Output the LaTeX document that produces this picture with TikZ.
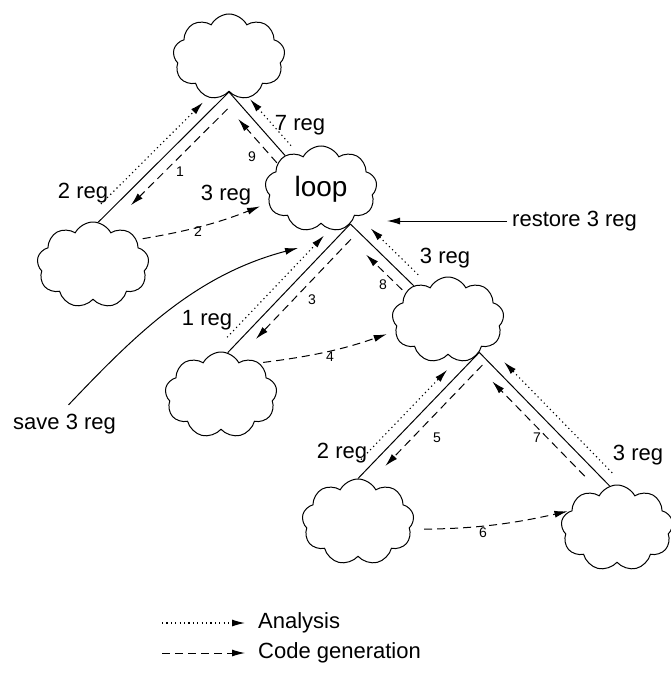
\documentclass[tikz,border=0pt]{standalone}
\usepackage{fontspec}
\setmainfont{Liberation Sans}
\usetikzlibrary{shapes.symbols, arrows.meta, calc}

\begin{document}
\begin{tikzpicture}[
    x=1pt, y=-1pt,
    blob/.style={
        draw,
        cloud,
        cloud puffs=9,
        cloud puff arc=125,
        cloud ignores aspect,
        minimum width=112pt,
        minimum height=86pt,
        line width=1pt
    },
    branch/.style={line width=1pt},
    analysis/.style={
        line width=1.1pt,
        dash pattern=on 1.2pt off 3.2pt,
        -{Latex[length=13pt,width=7pt]}
    },
    codegen/.style={
        line width=1pt,
        dash pattern=on 8pt off 5pt,
        -{Latex[length=13pt,width=7pt]}
    },
    plain/.style={
        line width=1pt,
        -{Latex[length=13pt,width=7pt]}
    },
    regtext/.style={
        font=\fontsize{22}{26}\selectfont,
        inner sep=0pt
    },
    num/.style={
        font=\fontsize{14}{16}\selectfont,
        inner sep=0pt
    }
]
\useasboundingbox (0,0) rectangle (671,685);

% Clouds
\node[blob] (root) at (229,57) {};
\node[blob, font=\fontsize{28}{30}\selectfont] (loop) at (321,189) {loop};
\node[blob] (lc) at (93,265) {};
\node[blob] (mc) at (221,395) {};
\node[blob] (rc) at (448,320) {};
\node[blob] (bl) at (358,522) {};
\node[blob] (br) at (617,528) {};

% Tree edges
\draw[branch] (lc.83) -- (root.south);
\draw[branch] (loop.137) -- (root.south);
\draw[branch] (mc.81) -- (loop.-50);
\draw[branch] (rc.135) -- (loop.-50);
\draw[branch] (bl.north) -- (rc.-46);
\draw[branch] (br.100) -- (rc.-46);

% Analysis (upwards, outside)
\draw[analysis] ($(lc.83)!.08!(root.south)!11pt!90:(root.south)$) -- ($(lc.83)!.86!(root.south)!11pt!90:(root.south)$);
\draw[analysis] ($(loop.137)!.04!(root.south)!11pt!-90:(root.south)$) -- ($(loop.137)!.77!(root.south)!11pt!-90:(root.south)$);
\draw[analysis] ($(mc.81)!.06!(loop.-50)!11pt!90:(loop.-50)$) -- ($(mc.81)!.85!(loop.-50)!11pt!90:(loop.-50)$);
\draw[analysis] ($(rc.135)!.05!(loop.-50)!11pt!-90:(loop.-50)$) -- ($(rc.135)!.8!(loop.-50)!11pt!-90:(loop.-50)$);
\draw[analysis] ($(bl.north)!.09!(rc.-46)!11pt!90:(rc.-46)$) -- ($(bl.north)!.8!(rc.-46)!11pt!90:(rc.-46)$);
\draw[analysis] ($(br.100)!.04!(rc.-46)!11pt!-90:(rc.-46)$) -- ($(br.100)!.87!(rc.-46)!11pt!-90:(rc.-46)$);

% Code generation (inside)
\draw[codegen] ($(lc.83)!.93!(root.south)!11pt!-90:(root.south)$) -- ($(lc.83)!.19!(root.south)!11pt!-90:(root.south)$);
\draw[codegen] ($(loop.137)!0!(root.south)!11pt!90:(root.south)$) -- ($(loop.137)!.69!(root.south)!11pt!90:(root.south)$);
\draw[codegen] ($(mc.81)!.94!(loop.-50)!11pt!-90:(loop.-50)$) -- ($(mc.81)!.165!(loop.-50)!11pt!-90:(loop.-50)$);
\draw[codegen] ($(rc.135)!.06!(loop.-50)!11pt!90:(loop.-50)$) -- ($(rc.135)!.63!(loop.-50)!11pt!90:(loop.-50)$);
\draw[codegen] ($(bl.north)!.96!(rc.-46)!11pt!-90:(rc.-46)$) -- ($(bl.north)!.16!(rc.-46)!11pt!-90:(rc.-46)$);
\draw[codegen] ($(br.100)!.13!(rc.-46)!11pt!90:(rc.-46)$) -- ($(br.100)!.84!(rc.-46)!11pt!90:(rc.-46)$);

% Sibling steps
\draw[codegen, shorten <=6pt, shorten >=9pt] (lc.30) to[bend right=6] (loop.195);
\draw[codegen, shorten <=4pt, shorten >=9pt] (mc.40) to[bend right=6] (rc.192);
\draw[codegen, shorten <=14pt, shorten >=4pt] (bl.-8) to[bend right=6] (br.159);

% Step numbers
\node[num] (n1) at (180,172) {1};
\node[num] (n2) at (198,232) {2};
\node[num] (n3) at (312,300) {3};
\node[num] (n4) at (330,357) {4};
\node[num] (n5) at (437,438) {5};
\node[num] (n6) at (483,533) {6};
\node[num] (n7) at (537,438) {7};
\node[num] (n8) at (383,285) {8};
\node[num] (n9) at (252,157) {9};

% Register counts
\node[regtext] (rlc) at (83,193) {2 reg};
\node[regtext] (rloop) at (300,125) {7 reg};
\node[regtext] (rloopin) at (226,195) {3 reg};
\node[regtext] (rmc) at (207,320) {1 reg};
\node[regtext] (rrc) at (445,258) {3 reg};
\node[regtext] (rbl) at (342,453) {2 reg};
\node[regtext] (rbr) at (638,455) {3 reg};

% Save / restore
\node[regtext, anchor=west] (save) at (13,424) {save 3 reg};
\node[regtext, anchor=west] (restore) at (512,221) {restore 3 reg};
\coordinate (savetip) at (298,248);
\coordinate (restoretip) at (387,221);
\draw[plain] ([xshift=4pt,yshift=9pt]save.north) .. controls (135,335) and (195,275) .. (savetip);
\draw[plain] ([xshift=-5pt]restore.west) -- (restoretip);

% Legend
\node[regtext, anchor=west] (legana) at (258,623) {Analysis};
\node[regtext, anchor=west] (leggen) at (258,653) {Code generation};
\draw[analysis] ([xshift=-96pt]legana.west) -- ([xshift=-13pt]legana.west);
\draw[codegen] ([xshift=-96pt]leggen.west) -- ([xshift=-13pt]leggen.west);

\end{tikzpicture}
\end{document}
